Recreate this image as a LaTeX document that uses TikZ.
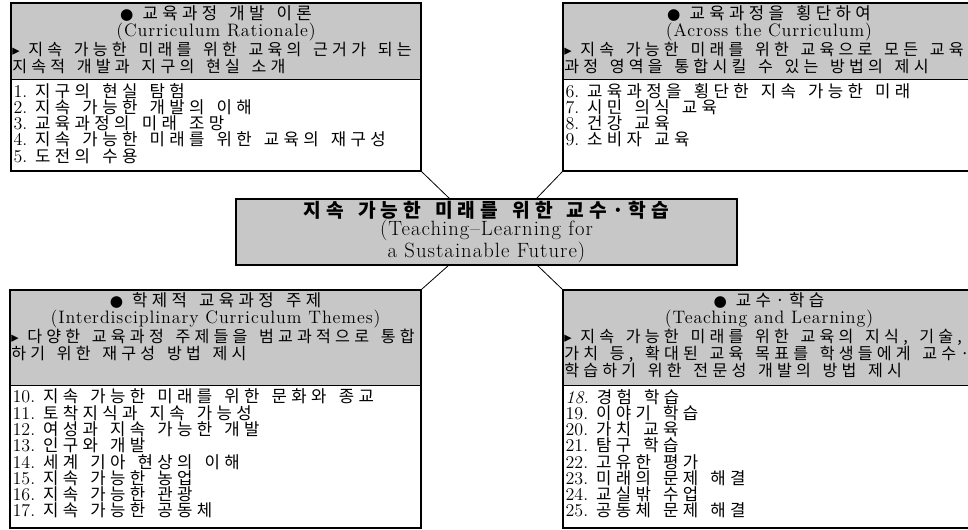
\documentclass[tikz,border=0pt]{standalone}
\usepackage{fontspec}
\usetikzlibrary{fit,positioning}
\newfontfamily\kr{Noto Sans CJK KR}[LetterSpace=26, WordSpace=1.5, Scale=0.93]
\newfontfamily\en{Latin Modern Roman}[LetterSpace=5]
\newfontfamily\sym{DejaVu Sans}[Scale=0.85]

\begin{document}
\begin{tikzpicture}[x = 0.75pt, y = -0.75pt, line width = 0.6pt,
                    frame/.style = {draw, line width = 1.4pt, inner sep = 0pt},
                    head/.style = {draw, fill = black!22, inner sep = 0pt},
                    title/.style = {align = center, inner sep = 0pt, anchor = north,
                                    font = \fontsize{13.5}{12.8}\selectfont},
                    note/.style = {align = left, inner sep = 1pt, anchor = north west,
                                   font = \fontsize{13}{12.8}\selectfont},
                    items/.style = {align = left, inner sep = 2pt, anchor = north west,
                                    font = \fontsize{13.5}{12.2}\selectfont}]
  \useasboundingbox (0,0) rectangle (968,529);

  % top left
  \node [head, fit = {(11,3) (421,79)}] (tlh) {};
  \node [frame, fit = {(11,3) (421,171)}] (tl) {};
  \node [title] (tlt) at ([yshift=-2pt]tlh.north)
        {{\sym ●}\enspace{\kr 교육과정 개발 이론}\\{\en (Curriculum Rationale)}};
  \node [note] (tln) at ([yshift=1pt]tlt.south -| tlh.west)
        {{\sym ▸}\enspace{\kr 지속 가능한 미래를 위한 교육의 근거가 되는}\\
         {\kr 지속적 개발과 지구의 현실 소개}};
  \node [items] (tli) at ([yshift=-0.5pt]tlh.south west)
        {1. {\kr 지구의 현실 탐험}\\
         2. {\kr 지속 가능한 개발의 이해}\\
         3. {\kr 교육과정의 미래 조망}\\
         4. {\kr 지속 가능한 미래를 위한 교육의 재구성}\\
         5. {\kr 도전의 수용}};

  % top right
  \node [head, fit = {(563,3) (975,79)}] (trh) {};
  \node [frame, fit = {(563,3) (975,171)}] (tr) {};
  \node [title] (trt) at ([yshift=-2pt]trh.north)
        {{\sym ●}\enspace{\kr 교육과정을 횡단하여}\\{\en (Across the Curriculum)}};
  \node [note] (trn) at ([yshift=1pt]trt.south -| trh.west)
        {{\sym ▸}\enspace{\kr 지속 가능한 미래를 위한 교육으로 모든 교육}\\
         {\kr 과정 영역을 통합시킬 수 있는 방법의 제시}};
  \node [items] (tri) at ([yshift=-0.5pt]trh.south west)
        {6. {\kr 교육과정을 횡단한 지속 가능한 미래}\\
         7. {\kr 시민 의식 교육}\\
         8. {\kr 건강 교육}\\
         9. {\kr 소비자 교육}};

  % centre
  \node [frame, fill = black!22, fit = {(236,199) (737,265)}] (ctr) {};
  \node [align = center, font = \fontsize{15.5}{14}\selectfont] (ctrt) at (ctr.center)
        {{\kr\bfseries 지속 가능한 미래를 위한 교수·학습}\\
         {\en (Teaching–Learning for}\\{\en a Sustainable Future)}};

  % bottom left
  \node [head, fit = {(10,290) (421,385)}] (blh) {};
  \node [frame, fit = {(10,290) (421,528)}] (bl) {};
  \node [title] (blt) at ([yshift=-2pt]blh.north)
        {{\sym ●}\enspace{\kr 학제적 교육과정 주제}\\{\en (Interdisciplinary Curriculum Themes)}};
  \node [note] (bln) at ([yshift=1pt]blt.south -| blh.west)
        {{\sym ▸}\enspace{\kr 다양한 교육과정 주제들을 범교과적으로 통합}\\
         {\kr 하기 위한 재구성 방법 제시}};
  \node [items] (bli) at ([yshift=-0.5pt]blh.south west)
        {10. {\kr 지속 가능한 미래를 위한 문화와 종교}\\
         11. {\kr 토착지식과 지속 가능성}\\
         12. {\kr 여성과 지속 가능한 개발}\\
         13. {\kr 인구와 개발}\\
         14. {\kr 세계 기아 현상의 이해}\\
         15. {\kr 지속 가능한 농업}\\
         16. {\kr 지속 가능한 관광}\\
         17. {\kr 지속 가능한 공동체}};

  % bottom right
  \node [head, fit = {(563,290) (975,385)}] (brh) {};
  \node [frame, fit = {(563,290) (975,528)}] (br) {};
  \node [title] (brt) at ([yshift=-2pt]brh.north)
        {{\sym ●}\enspace{\kr 교수·학습}\\{\en (Teaching and Learning)}};
  \node [note] (brn) at ([yshift=1pt]brt.south -| brh.west)
        {{\sym ▸}\enspace{\kr 지속 가능한 미래를 위한 교육의 지식, 기술,}\\
         {\kr 가치 등, 확대된 교육 목표를 학생들에게 교수·}\\
         {\kr 학습하기 위한 전문성 개발의 방법 제시}};
  \node [items] (bri) at ([yshift=-0.5pt]brh.south west)
        {\textit{18.} {\kr 경험 학습}\\
         19. {\kr 이야기 학습}\\
         20. {\kr 가치 교육}\\
         21. {\kr 탐구 학습}\\
         22. {\kr 고유한 평가}\\
         23. {\kr 미래의 문제 해결}\\
         24. {\kr 교실밖 수업}\\
         25. {\kr 공동체 문제 해결}};

  \coordinate (ta) at (450,199);
  \coordinate (tb) at (536,199);
  \coordinate (ba) at (449,265);
  \coordinate (bb) at (537,265);
  \draw (tl.south east) -- (ta);
  \draw (tr.south west) -- (tb);
  \draw (ba) -- (bl.north east);
  \draw (bb) -- (br.north west);
\end{tikzpicture}
\end{document}
